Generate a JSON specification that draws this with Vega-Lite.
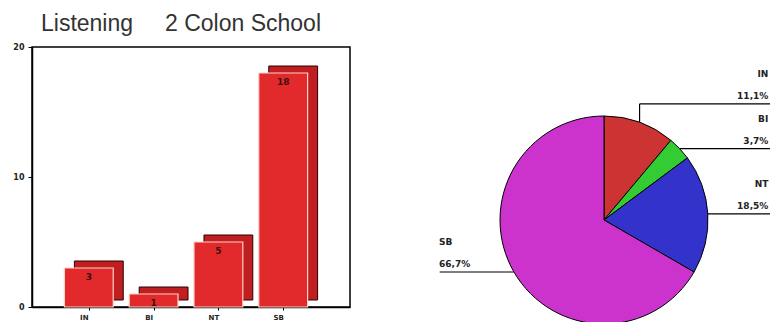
{
  "$schema": "https://vega.github.io/schema/vega-lite/v6.json",
  "background": "white",
  "padding": {"left": 5, "top": 12, "right": 0, "bottom": 0},
  "data": {"values": [
    {"cat": "IN", "count": 3},
    {"cat": "BI", "count": 1},
    {"cat": "NT", "count": 5},
    {"cat": "SB", "count": 18}
  ]},
  "spacing": 87,
  "config": {"view": {"stroke": null}},
  "hconcat": [
    {
      "width": 318,
      "height": 260,
      "view": {"stroke": "black", "strokeWidth": 1.5},
      "title": {
        "text": "Listening\u00a0\u00a0\u00a0\u00a0 2 Colon School",
        "font": "Liberation Sans",
        "fontSize": 23,
        "fontWeight": "normal",
        "color": "#333333",
        "anchor": "middle",
        "dx": -10,
        "offset": 7
      },
      "encoding": {
        "x": {
          "field": "cat", "type": "nominal", "sort": ["IN", "BI", "NT", "SB"],
          "scale": {"paddingInner": 0.092, "paddingOuter": 0.5},
          "axis": {
            "title": null, "labelAngle": 0, "labelFont": "DejaVu Sans", "labelFontWeight": "bold",
            "labelFontSize": 7, "labelColor": "#222222", "tickSize": 3, "tickColor": "black",
            "domainColor": "black", "domainWidth": 1.5, "labelPadding": 3, "tickOffset": -5, "labelOffset": -5
          }
        },
        "y": {
          "field": "count", "type": "quantitative",
          "scale": {"domain": [0, 20], "nice": false},
          "axis": {
            "title": null, "values": [0, 10, 20], "grid": false, "labelFont": "DejaVu Sans",
            "labelFontWeight": "bold", "labelFontSize": 8, "labelColor": "#222222", "tickSize": 4,
            "tickColor": "black", "domainColor": "black", "domainWidth": 1.5, "labelPadding": 4,
            "minExtent": 26, "maxExtent": 26
          }
        }
      },
      "layer": [
        {"mark": {"type": "bar", "width": {"band": 0.83}, "xOffset": 5, "yOffset": -7, "fill": "#C01E21", "stroke": "#2a0000", "strokeWidth": 1}},
        {"mark": {"type": "bar", "width": {"band": 0.83}, "xOffset": -5, "fill": "#E2292B", "stroke": "#FFD2C6", "strokeWidth": 1.2}},
        {"mark": {"type": "text", "xOffset": -5, "dy": 9, "baseline": "middle", "font": "DejaVu Sans", "fontWeight": "bold", "fontSize": 9, "color": "#3a1010"},
         "encoding": {"text": {"field": "count"}}}
      ]
    },
    {
      "width": 332,
      "height": 346,
      "transform": [
        {"window": [{"op": "row_number", "as": "idx"}]},
        {"joinaggregate": [{"op": "sum", "field": "count", "as": "total"}]},
        {"window": [{"op": "sum", "field": "count", "as": "cum"}], "sort": [{"field": "idx"}], "frame": [null, 0]},
        {"calculate": "2*PI*(datum.cum-datum.count/2)/datum.total", "as": "mid"},
        {"calculate": "sin(datum.mid)", "as": "px"},
        {"calculate": "cos(datum.mid)", "as": "py"},
        {"window": [{"op": "lead", "field": "py", "as": "nx"}], "sort": [{"field": "idx"}]},
        {"calculate": "datum.px>=0 && isValid(datum.nx) && datum.py-datum.nx<0.43 ? datum.nx+0.43 : datum.py", "as": "ly"},
        {"calculate": "datum.px>=0 ? 1.58 : -1.587", "as": "tx"},
        {"calculate": "datum.px>=0 ? 1.62 : -1.58", "as": "rx"},
        {"calculate": "replace(format(100*datum.count/datum.total,'.1f'),'.',',')+'%'", "as": "pct"}
      ],
      "layer": [
        {
          "mark": {"type": "arc", "radius": 104, "stroke": "black", "strokeWidth": 1},
          "encoding": {
            "theta": {"field": "count", "type": "quantitative", "stack": true},
            "order": {"field": "idx", "type": "quantitative"},
            "color": {"field": "cat", "type": "nominal", "legend": null,
              "scale": {"domain": ["IN", "BI", "NT", "SB"], "range": ["#CC3333", "#33CC33", "#3333CC", "#CC33CC"]}}
          }
        },
        {
          "mark": {"type": "rule", "color": "black", "strokeWidth": 1.2},
          "encoding": {
            "x": {"field": "px", "type": "quantitative", "scale": {"domain": [-1.596, 1.596], "nice": false, "zero": false}, "axis": null},
            "x2": {"field": "rx"},
            "y": {"field": "ly", "type": "quantitative", "scale": {"domain": [-1.663, 1.663], "nice": false, "zero": false}, "axis": null}
          }
        },
        {
          "mark": {"type": "rule", "color": "black", "strokeWidth": 1.2},
          "encoding": {
            "x": {"field": "px", "type": "quantitative"},
            "y": {"field": "py", "type": "quantitative"},
            "y2": {"field": "ly"}
          }
        },
        {
          "mark": {"type": "text", "align": {"expr": "datum.px>=0 ? 'right' : 'left'"}, "baseline": "alphabetic", "dy": -27, "font": "DejaVu Sans", "fontWeight": "bold", "fontSize": 9, "color": "#222222"},
          "encoding": {
            "x": {"field": "tx", "type": "quantitative"},
            "y": {"field": "ly", "type": "quantitative"},
            "text": {"field": "cat"}
          }
        },
        {
          "mark": {"type": "text", "align": {"expr": "datum.px>=0 ? 'right' : 'left'"}, "baseline": "alphabetic", "dy": -5, "font": "DejaVu Sans", "fontWeight": "bold", "fontSize": 9, "color": "#222222"},
          "encoding": {
            "x": {"field": "tx", "type": "quantitative"},
            "y": {"field": "ly", "type": "quantitative"},
            "text": {"field": "pct"}
          }
        }
      ]
    }
  ]
}
